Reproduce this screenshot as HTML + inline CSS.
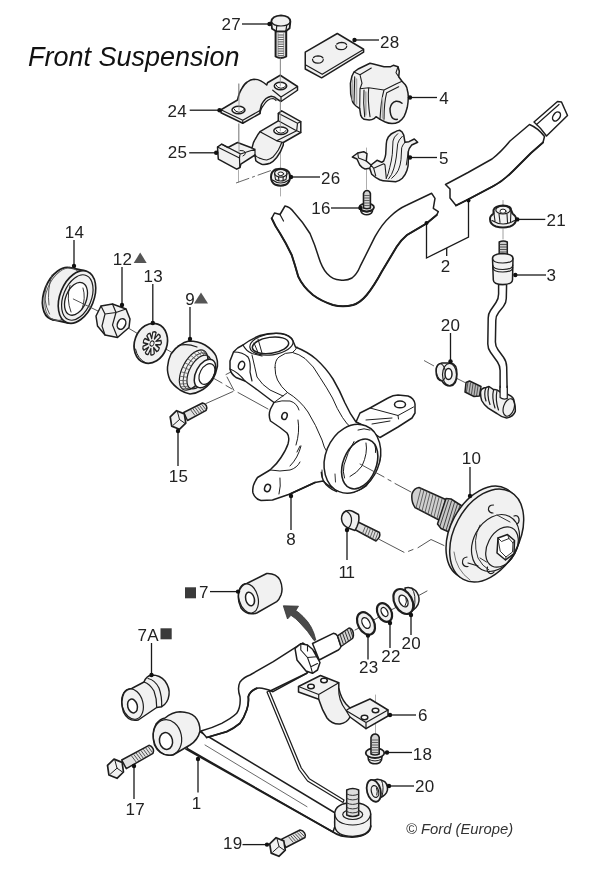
<!DOCTYPE html>
<html lang="en"><head><meta charset="utf-8"><title>Front Suspension</title>
<style>
html,body{margin:0;padding:0;background:#fff;}
body{width:600px;height:876px;overflow:hidden;position:relative;font-family:"Liberation Sans",sans-serif;}
svg{position:absolute;left:0;top:0;display:block;opacity:.999;will-change:transform}
.p{fill:#f1f1f1;stroke:#1e1e1e;stroke-width:1.5;stroke-linejoin:round;stroke-linecap:round}
.w{fill:#fff;stroke:#1e1e1e;stroke-width:1.5;stroke-linejoin:round;stroke-linecap:round}
.l{fill:none;stroke:#1e1e1e;stroke-width:1.2;stroke-linejoin:round;stroke-linecap:round}
.t{fill:none;stroke:#555;stroke-width:.8;stroke-linejoin:round;stroke-linecap:round}
.g{fill:none;stroke:#999;stroke-width:.8;stroke-linecap:round}
.c{fill:none;stroke:#555;stroke-width:1;stroke-dasharray:14 3 3 3}
.ld{fill:none;stroke:#1a1a1a;stroke-width:1.3}
.d{fill:#111;stroke:none}
.n{font-family:"Liberation Sans",sans-serif;font-size:17px;fill:#222;letter-spacing:.3px}
.ti{font-family:"Liberation Sans",sans-serif;font-style:italic;font-size:27px;fill:#111}
.cp{font-family:"Liberation Sans",sans-serif;font-style:italic;font-size:14.8px;fill:#333}
.k{fill:#555;stroke:none}
</style></head><body>
<svg width="600" height="876" viewBox="0 0 600 876">
<!-- 10_top.svg -->
<g id="top">
<!-- center lines -->
<path class="g" d="M280.5 58V86 M280.5 98V112 M280.5 147V168 M280.5 188V196 M238.5 84V108 M238.5 124V148 M238.5 170V182 M366.5 148V189"/>
<path class="c" d="M236 183 L278 168" style="stroke-width:.9"/>
<!-- bolt 27 -->
<path class="p" d="M275.600 31.300 V56.500 Q280.800 59.500 286.200 56.500 V31.300Z" style="stroke-width:2;fill:#f6f6f6"/>
<path class="t" d="M278.300 35.0H283.500M278.300 37.3H283.500M278.300 39.6H283.500M278.300 41.9H283.500M278.300 44.2H283.500M278.300 46.5H283.500M278.300 48.8H283.500M278.300 51.1H283.500M278.300 53.4H283.500M278.300 55.7H283.500" style="stroke:#555;stroke-width:1"/>
<path class="t" d="M278 33.500V56 M283.800 33.500V56" style="stroke:#777;stroke-width:.8"/>
<path class="p" d="M271.300 21.500 Q272 16 281 15.400 Q290 16 290.400 21.500 L289.600 28.300 L285.800 31.300 L276.300 31.300 L272 28.700Z" style="stroke-width:1.800"/>
<path class="l" d="M271.300 21.500 Q273 26 281 26 Q289 26 290.400 21.500 M276.700 25.800 L276.300 31.300 M286.700 25.400 L285.800 31.300"/>
<!-- clamp 24 -->
<path class="p" d="M221 109.750 L237.500 100 Q239 93 241.250 89.500 Q244 84 247.250 82 Q250.500 79.500 254 79.300 Q258 79.300 260.750 80.800 Q264 82.500 266.750 85 L267.500 82.750 L280.250 75.250 L297.500 86.500 L297.500 90.250 L281 101.500 L277.250 99.250 Q275 96.500 271.250 96.250 Q268 97 266 98.500 Q263 101.500 261.500 104.500 L260 110.500 L260 113.500 L242.750 123.250 L221 112.750Z"/>
<path class="l" d="M221 109.750 L242.750 120.250 L260 110.500 M242.750 120.250V123.250 M272.750 90.250 L281 97 L297.500 86.500 M281 97V101.500 M260 113.500 Q261 108 263 106 Q265 102.500 267.500 100.500 Q270 98.500 273 98.500 Q275 99 276 100.500"/>
<ellipse class="w" cx="238.500" cy="110" rx="6.500" ry="3.800"/>
<path class="l" d="M234 109 Q235 112 239 112.300 Q243 112 244 109.500" style="stroke-width:1"/>
<ellipse class="w" cx="280.500" cy="86" rx="6.200" ry="3.800"/>
<path class="l" d="M276 85 Q277 88 281 88.300 Q285 88 286 85.500" style="stroke-width:1"/>
<path class="g" d="M239 84V110 M280.300 58V86" style="stroke:#888"/>
<!-- clamp 25 -->
<path class="p" d="M260 131.700 L278.300 120.800 L278.300 113.300 L281.700 110.800 L300.800 121.700 L300.800 132.500 L283.300 142.500 L283.300 145 Q281 152 276.700 157.500 Q273 162 270 163.300 Q265 165 261.700 164.200 Q258 163 255.800 160.800 L255 155 L240.800 164.200 L240 167.500 L236.700 169.200 L218.300 159.200 L217.500 147 L221.700 144.200 L228 147.500 L237.500 142.500 L252 148 Q253 142 255.800 138.300 Q257.500 134.500 260 131.700Z"/>
<path class="l" d="M217.500 147 L239.500 158 L239.800 167.500 M221.700 144.200 L240 153.500 L239.500 158 M228 147.500 L240.500 154 L255 149.200 L255 155 M252 148 L255 149.200"/>
<path class="l" d="M260 131.700 L276.700 140.800 L283.300 142.500 M276.700 140.800 L296.700 130.800 L297.500 123.300 L278.300 113.300 M296.700 130.800 L300.800 132.500 M297.500 123.300 L300.800 121.700 M278.300 120.800 L296 130.500" />
<path class="l" d="M255 155 Q257 157.500 260 158.300 Q263.500 160 266.700 160 Q270.500 159 273.300 156.700 Q276.500 153 278.300 150 Q280.500 146 281.700 142.500"/>
<ellipse class="w" cx="280.800" cy="130.800" rx="7" ry="3.700"/>
<path class="l" d="M276 130 Q277 133 281 133.200 Q285 133 286 130.500" style="stroke-width:1"/>
<path class="l" d="M240 150.500 Q244 150 245.500 152.500 Q245.500 155 243 156" style="stroke-width:1"/>
<path class="g" d="M280.300 101V131 M239 124V152" style="stroke:#888"/>
<!-- nut 26 -->
<path class="p" d="M271 177 Q271 171 276 169.500 Q280.500 168 285 169.500 Q290 171 290 177 Q290 182.500 285.500 184.800 Q280.500 186.500 275.500 184.800 Q271 182.500 271 177Z" style="stroke-width:2"/>
<ellipse class="l" cx="280.800" cy="173.300" rx="6.200" ry="3.800"/>
<ellipse class="w" cx="280.800" cy="173.800" rx="2.800" ry="1.800" style="stroke-width:1"/>
<path class="l" d="M274.600 173.500 L275.500 179.500 Q280.500 182.500 286 179.500 L287 173.500 M278.500 177 L279 181 M283.200 177 L283 181 M272.500 180 Q280.500 186 289 180" style="stroke-width:1.100"/>
<!-- plate 28 -->
<path class="p" d="M305.250 52.200 L337.300 33.500 L363.600 49.250 L363.600 52.200 L321.600 77.800 L305.250 69Z"/>
<path class="l" d="M305.800 65 L322.200 74.300 L363 49.800"/>
<path class="l" d="M312.500 59 Q312.500 63 317.700 63.200 Q323 63 323.300 59.500 M313.500 57.500 Q315 55.800 318 55.800 Q322 56 323 58"/>
<path class="l" d="M335.800 45.500 Q336 49.500 341 49.700 Q346.500 49.500 346.800 46 M336.800 44 Q338.500 42.300 341.500 42.300 Q345.500 42.500 346.500 44.500"/>
<!-- bushing 4 -->
<path class="p" d="M354 72 L358.700 68.700 L370 63.300 L373.300 64 L384 66.700 L390.700 66.700 L393.300 65.300 L398 66.700 L399.300 71.300 L398.700 76.700 L402 81.300 L405.300 84.700 Q407 87 407.300 90 Q408.300 93 408.300 96.700 Q408.300 102 407.300 107.300 Q406 112.500 404 116.700 Q402 120 398.700 122 Q395.500 123.600 392 123.600 Q388.500 123.500 385.300 122 L380 119.300 L376 116.700 L374 118.700 Q372 120 369.300 120 L364 119.300 Q361.500 118 360.700 115.300 L359.700 108.700 L356 106 Q353.500 104 352.700 102 L350.700 94 L350.400 83.300 L352 76Z"/>
<path class="l" d="M354 72 L360 74.700 L371.300 68 M360 74.700 L362 83.300 L360 88.700 L359.700 108.700 M354.700 76.700 L354 103.300 M360 88.700 L368.700 87.700 L384 90 L396 84 L402 81.300 M368.700 87.700 Q367.500 100 370 116.700 M364 90 Q363 103 364.700 116.700 M384 90 Q381 100 380 119.300 M386.700 92.700 L398.700 86.700 M386.700 92.700 Q384 103 384 119.300 M398 66.700 L396 72.700 L398.700 76.700" style="stroke-width:1.100"/>
<path class="l" d="M402 103.300 Q399.500 101 396 101.300 Q391 102.500 390 108.700 Q390 116 393.300 118.700 Q395.500 120 397.300 119.300" style="stroke-width:1.500"/>
<path class="t" d="M352.500 80V100 M356.500 79V104 M365.800 92V115 M382.500 98 V118" style="stroke:#aaa;stroke-width:1.600"/>
<!-- clip 5 -->
<path class="p" d="M352.300 157 L357.700 153 L363.700 151.700 L367 153.700 L366.300 161 L371 165 L377 160.300 L381.700 162.300 L383.700 161 Q385.500 157 385.700 154.300 L386.300 143.700 Q386.500 140 388.300 137 Q391 133.500 394.300 132.300 Q397 130.500 399.700 130.300 Q402.500 131.500 403.700 135 L405 142.300 L409 141.700 L414.300 139 L417.700 142.300 L411.700 145 Q409 148 408.300 151.700 L408.300 161 Q408.500 166 407 170.300 Q405.500 175 402.300 178.300 Q399.500 181 395.700 181.700 L386.300 181 Q383 181 379.700 179.700 Q375 177.500 371.700 174.300 L369.700 168.300 L365 169 Q362 168 359.700 165 L357 159Z"/>
<path class="l" d="M371 165 L373.700 168.300 L383.700 163.700 L385 165 L386.300 178.300 M373.700 168.300 L375.700 175.700 M369.700 168.300 L371 165 M357.700 153 L358.500 158 L366.300 161" style="stroke-width:1.100"/>
<path class="l" d="M397.700 133.700 Q393.500 137 393 141 L392.300 154.300 Q391.500 161 389.700 167.700 Q388.500 174 386.300 178.300 M402.300 136.300 Q398.500 140 397.700 143.700 L396.300 157 Q395.500 163 393.700 169 Q392 175 388.500 179 M405 142.300 Q402.500 145 401.700 147.700 L401 159.700 Q400.500 165 398.300 170.300 Q396 175 391.700 178.300 M408.300 151.700 L406.300 165" style="stroke-width:1"/>
<!-- bolt 16 -->
<path class="p" d="M360.500 208.500 L361 211.500 Q362.500 214.800 366.700 214.800 Q371 214.800 372.300 211.500 L372.800 208.500Z" style="stroke-width:1.600"/>
<path class="l" d="M361.500 211 Q366.700 213.800 372 211" style="stroke-width:1"/>
<ellipse class="p" cx="366.700" cy="207.300" rx="7.300" ry="4" style="stroke-width:1.800"/>
<path class="p" d="M363.500 208 V193.500 Q364.500 190.500 367 190.500 Q369.500 190.500 370.400 193.500 V208 Q367 209.500 363.500 208Z" style="fill:#d2d2d2;stroke-width:1.600"/>
<path class="t" d="M364.500 195.500H369.500M364.500 198H369.500M364.500 200.500H369.500M364.500 203H369.500M364.500 205.500H369.500" style="stroke:#555;stroke-width:.9"/>
</g>
<!-- 20_bar.svg -->
<g id="bar">
<!-- stabilizer bar left piece -->
<path class="w" d="M285 206 Q290 207 293.500 211.700 Q303 222 310 233.500 Q315 245 318.500 256.700 Q322 268 327 273.500 Q333 280 340 280 Q347 281 352 278 Q357 274 360 266.700 L375 236.700 Q382 224 390 216.700 Q398 209 407 205 L431.700 193.300 L435 198.300 L433.300 208.300 L438.300 211.700 L436.700 215 L426.700 223.300 L407 235 Q401 240 396.700 246.700 L381.700 271.700 Q374 286 366.700 295 Q360 303 353 305 Q343 307.500 333 305 Q321 301 313 295 Q303 287 298.300 276.700 Q295 265 291.700 255 Q286 243 280 233.300 Q275 226 271.700 218.300 L274.500 213 L280 214.500Z"/>
<path class="l" style="stroke-width:2" d="M271.700 218.300 Q275 226 280 233.300 Q286 243 291.700 255 Q295 265 298.300 276.700 Q303 287 313 295 Q321 301 333 305 Q343 307.500 353 305 Q360 303 366.700 295 Q374 286 381.700 271.700 L396.700 246.700 Q401 240 407 235 L426.700 223.300 L436.700 215"/>
<path class="l" d="M280 214.500 L283.500 221"/>
<!-- right piece -->
<path class="w" d="M445.500 184.500 L468 172.500 L492 159 Q501 152 510 141 L529.500 124.500 Q538 128 544.500 136.500 L543 142.500 L531 153 L513 171 Q503 181 493.500 186 L468 199.500 L456 205.500 L450 198 L450 189Z"/>
<path class="l" style="stroke-width:1.800" d="M456 205.500 L468 199.500 L493.500 186 Q503 181 513 171 L531 153 L543 142.500"/>
<path class="w" d="M534 122 L557.500 101.500 L561.500 102 L567.500 115.500 L546.500 136 Q541 128 534 122Z"/>
<path class="l" d="M536.500 124.500 L559 104.500"/>
<ellipse class="w" cx="556.500" cy="116.500" rx="3.300" ry="5" transform="rotate(35 556.500 116.500)"/>
<!-- nut 21 -->
<path class="g" d="M503 200.500V206 M503 229.500V239" style="stroke:#888"/>
<path class="p" d="M490 219 Q490 216 493.500 213.500 L493.500 210 Q495 206 503 205.500 Q511 206 511 210 L512.500 213.500 Q516 216 516 219 Q516 224.500 510 226.500 Q503 228.500 496 226.500 Q490 224.500 490 219Z" style="stroke-width:2"/>
<ellipse class="l" cx="503" cy="210" rx="7.200" ry="4"/>
<ellipse class="w" cx="503" cy="211.200" rx="3" ry="2.100" style="stroke-width:1"/>
<path class="l" d="M493.500 210 L495 221 M511 210 L510.500 221.500 M499 214 L500 222.500 M507 214 L507.500 222.500 M492 220.500 Q503 227.500 514.500 220.500" style="stroke-width:1.100"/>
<!-- link 3 -->
<path class="p" d="M499.200 242 Q503.300 239.800 507.300 242 V256 H499.200Z" style="fill:#ccc"/>
<path class="t" d="M499.500 244.500H507M499.500 247H507M499.500 249.500H507M499.500 252H507M499.500 254.500H507" style="stroke:#333"/>
<path class="w" d="M498.600 284.500 L498.600 294 Q498.600 298.600 496 302.500 L490.500 310.500 Q488.200 313.800 488.200 318 L487.800 344 Q487.800 348.500 490.500 352.300 L497.500 362 Q500.100 365.800 500.100 370.500 L500.100 396 L507.300 398.400 L506.700 367 Q506.600 361.500 503.500 357.300 L498 349.800 Q495.400 346.300 495.400 342 L495.800 320.500 Q495.800 316 498.600 312.500 L503.500 306.400 Q506.200 303 506.300 298.500 L506.600 284.500Z"/>
<path class="p" d="M492.500 258.500 Q492.500 254 502.800 253.500 Q513 254 513 258.500 L512.500 280 Q512 284.500 502.800 284.500 Q493.500 284.500 493.300 280Z"/>
<path class="l" d="M492.500 258.500 Q493 263 502.800 263 Q512.500 263 513 258.500 M492.700 265 Q493 269.500 502.800 269.500 Q512.500 269.500 512.800 265 M492.800 267.500 Q493 272 502.800 272 Q512.500 272 512.700 267.500"/>
<!-- lower joint -->
<path class="p" d="M466 382.500 L469.500 381 L481 386.500 L479.500 396 L474 396.500 L465 392Z" style="fill:#bbb"/>
<path class="t" d="M468 382L466.500 391.500M470.500 383L469 393M473 384L471.500 394M475.500 385L474 395.500M478 386L476.500 396" style="stroke:#333"/>
<path class="p" d="M480.600 391.800 Q481 388 486 387.500 L489 386.500 L493.600 389.700 Q497 389 500 392 L508 394.500 Q514 397 514.200 401.600 Q515.500 406 515.300 411.400 Q513 417 506.600 417.900 Q501 417 496.900 413.500 L488.200 408.100 Q484 405 481.700 400.500 Q480.300 396 480.600 391.800Z"/>
<path class="l" d="M486 387.500 Q483.500 394 486 401 M489 386.500 Q486.500 395 490 404.500 M493.600 389.700 Q491.500 398 495 408 M497 390.500 Q495 400 498.500 410"/>
<ellipse class="l" cx="508.800" cy="407.500" rx="5.300" ry="9" transform="rotate(18 508.800 407.500)"/>
<path class="w" d="M500.100 388 L500.100 397.500 Q503.500 400 507.300 398.400 L507.200 388Z" style="stroke:none"/>
<path class="l" d="M500.100 386 L500.100 397.500 Q503.500 400 507.300 398.400 L507.200 386"/>
<!-- washer 20 -->
<path class="c" d="M424 360.500 L434 366 M455 377.500 L466 383" style="stroke-dasharray:none;stroke-width:.9"/>
<path class="p" d="M436 371 Q436 364 442 363 L451 363 Q457 364 457 374 Q457 385.500 450 386 Q445 386 442 381 Q436 380 436 371Z"/>
<ellipse class="l" cx="441" cy="372" rx="4.500" ry="8.500" transform="rotate(-10 441 372)" style="stroke-width:1"/>
<ellipse class="w" cx="448.500" cy="374" rx="3.500" ry="5.500"/>
<ellipse class="l" cx="449.500" cy="374.500" rx="7" ry="11"/>
</g>
<!-- 30_bearing.svg -->
<g id="bearing">
<!-- axis lines -->
<path class="t" d="M124 325.500 L140 335 M157 344 L172 352.500 M206 374 L222 383 M226 385.500 L232 389 M238 392.500 L268 409" style="stroke:#444;stroke-width:.9"/>
<path class="t" d="M242.500 366 L226 374.500 M227 377 L234 390.500 M233 391.500 L206 403.500" style="stroke:#444;stroke-width:.9"/>
<!-- part 14 -->
<ellipse class="p" cx="61.2" cy="293.7" rx="16.9" ry="27.5" transform="rotate(22 61.2 293.7)" style="stroke-width:1.800"/>
<path d="M69.7 267.7 L85.5 271.0 L68.5 323.0 L52.7 319.7Z" fill="#f1f1f1" stroke="none"/>
<path class="l" d="M69.7 267.7 L85.5 271.0 M68.5 323.0 L52.7 319.7" style="stroke-width:1.800"/>
<path class="l" d="M46.500 285 Q42 300 49.500 314 M52 275 Q47 290 49 305" style="stroke-width:.9;stroke:#444"/>
<ellipse class="l" cx="63.5" cy="294.2" rx="16.9" ry="27.5" transform="rotate(22 63.5 294.2)" style="stroke-width:.9;stroke:#555"/>
<ellipse class="p" cx="77" cy="297" rx="16.9" ry="27.5" transform="rotate(22 77 297)" style="stroke-width:1.600"/>
<ellipse class="l" cx="77.300" cy="297.500" rx="14" ry="23.800" transform="rotate(22 77.300 297.500)"/>
<ellipse class="w" cx="76" cy="298.800" rx="10.300" ry="17.200" transform="rotate(22 76 298.800)" style="stroke-width:1.300"/>
<path class="l" d="M70 285.500 Q66 299 71 312 M83 288 Q86 298 82 309" style="stroke-width:.9"/>
<path class="t" d="M73.300 299 L100 312" style="stroke:#444;stroke-width:.9"/>
<!-- nut 12 -->
<path class="p" d="M101 306 L112.500 304 L126 309 L130 319 L129 327.500 L117.500 337.500 L105 335 L97.500 326 L96 316Z"/>
<path class="l" d="M112.500 304 L116 312.500 L126 309 M116 312.500 L112.500 325 L117.500 337.500 M101 306 L105 314 L116 312.500 M105 314 L102 326 L105 335"/>
<ellipse class="w" cx="121.500" cy="324" rx="4" ry="5.500" transform="rotate(25 121.500 324)"/>
<!-- washer 13 -->
<ellipse class="p" cx="150.800" cy="343.300" rx="16.200" ry="20.400" transform="rotate(20 150.800 343.300)" style="stroke-width:1.700"/>
<path class="l" d="M135.500 349 Q137.500 359 146 363" style="stroke-width:1"/>
<g transform="translate(152 343.500) rotate(20) scale(.78 1.05)">
<path class="l" d="M5.0 0.0 L10.9 1.7 Q11.6 4.2 9.4 5.7 L3.8 3.2 L7.2 8.3 Q6.2 10.7 3.5 10.4 L0.9 4.9 L0.2 11.0 Q-2.1 12.1 -4.0 10.3 L-2.5 4.3 L-6.9 8.6 Q-9.4 7.9 -9.6 5.3 L-4.7 1.7 L-10.8 2.1 Q-12.3 0.0 -10.8 -2.1 L-4.7 -1.7 L-9.6 -5.3 Q-9.4 -7.9 -6.9 -8.6 L-2.5 -4.3 L-4.0 -10.3 Q-2.1 -12.1 0.2 -11.0 L0.9 -4.9 L3.5 -10.4 Q6.2 -10.7 7.2 -8.3 L3.8 -3.2 L9.4 -5.7 Q11.6 -4.2 10.9 -1.7 L5.0 -0.0Z" style="stroke-width:1.500;stroke:#222"/>
<circle class="l" cx="0" cy="0" r="2.500" style="stroke-width:1"/>
</g>
<!-- bearing 9 -->
<path class="p" d="M188.700 341 Q198 341 205 345 Q213 350 216 356 Q218 361 217.500 366 Q216 374 212.500 380 Q207 388 200 391 Q195 394 190 394 Q185 393 180 390 Q173 385 170 380 Q167 373 167.500 367 Q168 360 171 354 Q175 348 180 345 Q184 342 188.700 341Z"/>
<ellipse class="l" cx="193.500" cy="370" rx="11" ry="22" transform="rotate(28 193.500 370)"/>
<ellipse class="l" cx="196" cy="371" rx="10" ry="20" transform="rotate(28 196 371)" style="stroke-width:.8"/>
<ellipse class="l" cx="199" cy="372" rx="9.500" ry="18.500" transform="rotate(28 199 372)"/>
<ellipse class="w" cx="205" cy="373.500" rx="9" ry="15.500" transform="rotate(28 205 373.500)"/>
<ellipse class="l" cx="207" cy="374" rx="7" ry="11" transform="rotate(28 207 374)"/>
<path class="t" d="M182.4 388.9L189.1 387.9M180.7 386.9L187.6 386.2M179.6 384.0L186.7 383.7M179.3 380.4L186.4 380.7M179.7 376.2L186.7 377.2M180.8 371.8L187.6 373.4M182.6 367.2L189.1 369.6M184.9 362.8L191.1 365.9M187.7 358.8L193.4 362.5M190.7 355.3L196.0 359.6M193.9 352.6L198.7 357.3M197.1 350.8L201.4 355.8M200.1 350.0L204.0 355.1M202.8 350.1L206.3 355.3" style="stroke:#555;stroke-width:.8"/>
<path class="l" d="M178 346 Q186 343 197 347"/>
<!-- bolt 15 -->
<path class="p" d="M183.7 412.5 L202.5 403.0 Q205.2 403.5 206.3 405.7 Q207.4 407.8 206.2 410.3 L187.5 420.5Z" style="fill:#e2e2e2"/>
<path class="t" d="M190.9 410.1L194.8 415.3M193.1 408.9L197.0 414.2M195.3 407.8L199.2 413.0M197.5 406.7L201.4 411.8M199.7 405.6L203.5 410.6M201.9 404.5L205.7 409.4" style="stroke:#444;stroke-width:.9"/>
<path class="p" d="M176.6 410.7 L184.3 413.9 L185.8 423.2 L179.4 429.3 L171.7 426.1 L170.2 416.8Z" style="stroke-width:1.700"/>
<path class="l" d="M177.6 412.2 L179.5 419.5 L184.8 423.2 M179.5 419.5 L173.2 425.1" style="stroke-width:1"/>
</g>
<!-- 40_knuckle.svg -->
<g id="knuckle">
<!-- steering arm (behind) -->
<path class="w" d="M356 422 L360 413 L370 408 L388 398 Q393 395 398 395 L408 396 Q414 398 415 404 L415 413 L412 418 L398 427 L380 437.500 L366 428Z"/>
<path class="l" d="M370 408 L398 415.500 L413.500 407 M398 415.500 L398.500 419 M366 420 L392 418 M372 424 L390 421" style="stroke-width:1"/>
<ellipse class="w" cx="400" cy="404.400" rx="5.500" ry="3.300"/>
<!-- main body -->
<path class="w" d="M230 361 L233.500 352 Q237 347.500 243 345 Q250 339.500 260 335.500 Q271 332.500 281 333.500 Q290 335 293 341 L295.500 347 Q308 352 316 359 Q326 368 333 379 Q340 391 345 403 Q350 414 356 422 Q368 427 375 434 Q381 445 380 459 Q377 472 366 486 Q356 494 343 492 Q330 488 323 481 L315 482.500 L290 494 L272.500 500 L261 500.500 Q255 499 253 493 Q251.500 486 257.500 477.500 L270 470 Q277 464 281 457.500 Q286 450 288 444 Q290 437 287 433 L280 427.500 L270.500 421 Q268 415 270.500 409 L274 402.500 L257.500 390 L245 381 L236 377.500 Q231 374 230 369Z"/>
<!-- strut ring -->
<ellipse class="l" cx="271.500" cy="344.300" rx="21.800" ry="10.600" transform="rotate(-8 271.500 344.300)"/>
<ellipse class="w" cx="270.500" cy="345.300" rx="18.300" ry="8" transform="rotate(-8 270.500 345.300)"/>
<path class="l" d="M258 339 L262 353 M254 343 L258 352.500" style="stroke-width:1"/>
<!-- clamp ear -->
<path class="l" d="M233.500 352 Q243 352 248 357 Q251 362 250 372 L252 381 M243 345 Q246 351 252 353.500 L262 356 M230 369 Q238 372 245 381"/>
<ellipse class="w" cx="241.500" cy="365.500" rx="3" ry="4.300" transform="rotate(20 241.500 365.500)"/>
<!-- neck contour lines -->
<path class="l" d="M275 367.500 Q275 360 279 357 Q285 352 292.500 352.500 Q299 354 305 358.500 Q314 366 320 377.500 Q327 388 332.500 398 Q337 409 342.500 417.500 Q347 425 352 428" style="stroke-width:1"/>
<path class="l" d="M275 367.500 Q275 375 277.500 380 Q281 387 287.500 392.500 L274 402.500" style="stroke-width:1"/>
<path class="l" d="M252 355 Q255 368 257 377 Q262 385 270 390 L283 396" style="stroke-width:1"/>
<path class="l" d="M287.500 392.500 Q300 400 308 412 Q316 425 322 440 Q324 448 327 452" style="stroke-width:1"/>
<path class="l" d="M297 347 Q296 350 292.500 352.500" style="stroke-width:1"/>
<!-- caliper ears -->
<path class="l" d="M274 402.500 Q282 400 290 401 Q297 403 299 410" style="stroke-width:1"/>
<ellipse class="w" cx="284.500" cy="416" rx="2.600" ry="3.600" transform="rotate(20 284.500 416)"/>
<ellipse class="w" cx="267.500" cy="488" rx="2.800" ry="3.800" transform="rotate(20 267.500 488)"/>
<path class="l" d="M298 420 Q300 432 296 445 M301 446 Q298 458 290 466 M280 478 Q281 486 279 494 M270 470 Q280 472 290 470 Q297 468 300 462 M300 446 L297 452" style="stroke-width:1"/>
<path class="l" d="M290 494 L315 482.500" style="stroke-width:1.800"/>
<!-- bearing housing -->
<path class="l" d="M321.300 472.300 Q321.500 477 323.300 480.300 Q325.500 484.500 328.700 487 Q332 490 336.700 491.500" style="stroke-width:1.400"/>
<ellipse class="w" cx="352.400" cy="458.700" rx="27" ry="35.500" transform="rotate(22 352.400 458.700)"/>
<ellipse class="w" cx="359.700" cy="464" rx="16.500" ry="26" transform="rotate(22 359.700 464)" style="stroke-width:1.600"/>
<path class="l" d="M354 441.500 Q347.500 452 344 465 Q342.500 472 344.500 478 M366 443 Q368 453 362 466 Q357 473 350 476.500 M375 445.500 Q376 449 375.500 452.500 M358 430 Q364 427.500 370 430" style="stroke-width:1"/>
<path class="l" d="M335 474 L335.500 482 M322 470 L322.500 478" style="stroke-width:.9"/>
</g>
<!-- 50_hub.svg -->
<g id="hub">
<!-- center lines -->
<path class="t" d="M360 464 L384 477 M388 479.500 L391 481 M395 483.500 L411 492" style="stroke:#444;stroke-width:.9"/>
<path class="t" d="M379.500 539.500 L404 552.300 M408.500 551.300 L413 549.500 M418 547.700 L431 539.500 L444 545.500" style="stroke:#444;stroke-width:.9"/>
<!-- threaded shaft -->
<path class="p" d="M412 494 Q414 488 419 487.500 L449 501 L440 520.500 L415 507.500 Q411 502 412 494Z" style="fill:#d0d0d0"/>
<path class="t" d="M421 488.500L416 508M424 490L419 509.500M427 491.500L422 511M430 493L425 512.500M433 494.500L428 514M436 496L431 515.500M439 497.500L434 517M442 499L437 518.500M445 500.500L440 520" style="stroke:#555;stroke-width:.9"/>
<!-- spline -->
<path class="p" d="M446 498.500 L451 499 L462 506 L449 532 L441 528.500 L437.500 524Z" style="fill:#c8c8c8"/>
<path class="t" d="M448.500 500L440 526M451.500 501L443 529M454.500 502.500L446 530.500M457.500 504L448.500 531.500M460 505.500L451 531" style="stroke:#333;stroke-width:.9"/>
<!-- flange -->
<ellipse class="p" cx="483" cy="532.700" rx="32.500" ry="49.700" transform="rotate(28 483 532.700)"/>
<ellipse class="p" cx="486.700" cy="535.500" rx="32.500" ry="49.700" transform="rotate(28 486.700 535.500)"/>
<path class="l" d="M454 552 Q456 570 470 580" style="stroke-width:.9;stroke:#666"/>
<!-- boss -->
<ellipse class="l" cx="495.500" cy="543" rx="22" ry="30" transform="rotate(28 495.500 543)"/>
<path class="l" d="M480 525 Q472 540 478 558 Q482 566 489 570" style="stroke-width:.9"/>
<ellipse class="l" cx="502" cy="547" rx="14.500" ry="21.500" transform="rotate(28 502 547)"/>
<path class="w" d="M498 538 L507.500 534.500 L514.500 540.500 L514 553.500 L505.500 560 L497 553Z"/>
<path class="l" d="M498 538 L501.500 541.500 L509 538.500 L513 543 L512.500 552 L506 557 L500.500 551.500Z M507.500 534.500 L509 538.500 M514.500 540.500 L513 543 M505.500 560 L506 557" style="stroke-width:.9"/>
<!-- holes -->
<path class="l" d="M493.500 505 Q488 505 488.500 510 Q489.500 513 493 513"/>
<path class="l" d="M514 516 Q518 514.500 519 519 Q519.500 522.500 517 524"/>
<path class="l" d="M467 557 Q462 557.500 462.500 563 Q463.500 567 468 566.500 M468 563 L478 566"/>
<path class="l" d="M487.500 567 Q486 571.500 490 573.500 Q492.500 574 494 572"/>
<path class="l" d="M497 515 L510 522 M480 558 L486.500 562" style="stroke-width:.9"/>
<!-- bolt 11 -->
<path class="p" d="M353 519.500 L379.500 532.500 Q381 537 376 541 L352 528Z" style="fill:#ddd"/>
<path class="t" d="M365.500 526L362.500 533.500M368 527.500L365 535M370.500 528.500L367.500 536.500M373 530L370 538M375.500 531L372.500 539M378 532.500L375 540.500" style="stroke:#444"/>
<path class="p" d="M346 511 Q350 510 353 511.500 L358.500 514.500 Q360 520 357 526.500 L355 530.500 L348 528 Q342 525 341.500 519 Q341.500 513 346 511Z"/>
<path class="l" d="M346 511 Q352 514 351.500 521 Q351 526 348 528"/>
</g>
<!-- 60_arm.svg -->
<g id="arm">
<!-- center line washers -->
<path class="t" d="M355 630 L361 627 M372 621 L379 617 M390 610.500 L397 607 M416 597 L427 591" style="stroke:#444;stroke-width:.9"/>
<path class="g" d="M375.500 695V736"/>
<!-- main front leg -->
<path class="w" d="M199 731 L336 813.500 Q334 820 335 826 L333 832 L188 749 L184 742Z"/>
<path class="l" d="M205 745 L307 806.700" style="stroke-width:.8;stroke:#444"/>
<path class="l" d="M186 749 L333 832 Q340 837 352 837 Q363 836.500 368 832 Q371 829 370.700 826" style="stroke-width:1.800"/>
<!-- brace rod -->
<path class="w" d="M269.300 690.700 L301.300 768 L309.300 778.700 L344 800 L343 802.500 L307.500 781 L299 769.500 L267 692Z" style="stroke-width:1.250"/>
<!-- upper tube -->
<path class="w" d="M201 731 Q212 728 221.700 723.300 Q232 718 236.700 713.300 Q241 707 240 696.700 Q237 688 240 682 Q244 677 250 675 L273.300 661.700 L296.700 646.700 L303 643 L316 653 L315 663 L306.700 673.300 L273 691.700 Q262 687 256.700 688.300 Q250 691 248.300 696.700 Q249 704 246.700 710 Q244 718 240 723.300 Q233 729 226.700 731.700 L206.700 737.500Z"/>
<path class="l" d="M206.700 737.500 L226.700 731.700 Q233 729 240 723.300 Q244 718 246.700 710 Q249 704 248.300 696.700 Q250 691 256.700 688.300 M270.700 690.700 L306.700 673.300" style="stroke-width:1.800"/>
<!-- collar + shaft + thread -->
<path class="w" d="M312.500 643.500 L333.300 633.300 Q336 633.500 337.500 635.800 L341 646.500 Q340 649 338.300 650 L319.200 660Z"/>
<path class="p" d="M337.500 635.800 L349 628 Q352.500 628.500 353.300 633 Q354 636.500 352.500 638.500 L341 646.500Z" style="fill:#d4d4d4"/>
<path class="t" d="M340 634.500L343.500 644.500M342.500 633L346 642.500M345 631.500L348.500 641M347.500 630L351 639M350 628.500L353 637.500" style="stroke:#333;stroke-width:1"/>
<path class="w" d="M295 648.300 L300.800 643.700 L307.500 645 L312.500 649.200 L316.700 656.700 L320 662.500 L317.500 670 L312.500 673.300 L306 671 L297 660Z"/>
<path class="l" d="M300.800 650 L300.800 643.700 M300.800 650 L307.500 657.500 L310.800 666.700 L312.500 673.300 M307.500 657.500 L316.700 656.700 M307.500 645 L307.500 651 M310.800 666.700 L317.500 663.500" style="stroke-width:1.100"/>
<!-- eye -->
<path class="p" d="M165 718 Q172 712 180 711.700 Q190 712 195 716.700 Q200 722 200 731 Q198 740 190 745 L173 755 Q160 757 154.500 745 Q151 733 156 724 Q160 719 165 718Z"/>
<ellipse class="l" cx="167.500" cy="737.500" rx="14" ry="18" transform="rotate(-12 167.500 737.500)"/>
<ellipse class="w" cx="166" cy="741" rx="6.500" ry="8.500" transform="rotate(-12 166 741)"/>
<!-- ball joint -->
<path class="p" d="M334.700 814 Q335 803 352.700 802.700 Q370 803 370.700 814 L370.700 826 Q369 836 352.700 836.500 Q336 836 334.700 826Z"/>
<path class="l" d="M334.700 814 Q336 824.500 352.700 825 Q369 824.500 370.700 814"/>
<ellipse class="l" cx="352.700" cy="814.500" rx="10" ry="5"/>
<path class="p" d="M346.700 790 Q352.700 787 358.700 790 L358.700 815 Q352.700 818 346.700 815Z" style="fill:#ddd"/>
<path class="t" d="M346.700 794 Q352.700 797 358.700 794 M346.700 798.500 Q352.700 801.500 358.700 798.500 M346.700 803 Q352.700 806 358.700 803 M346.700 807.500 Q352.700 810.500 358.700 807.500 M346.700 811.500 Q352.700 814.500 358.700 811.500" style="stroke:#333;stroke-width:1"/>
<!-- bracket 6 -->
<path class="p" d="M298.500 686.500 L320.500 675.500 L338.800 682.800 L338.800 688.300 Q341 698 346 704 L350 708 L370 699 L388 710 L388 716 L366 728.700 L350 717 Q347 723 340 724 Q332 724.500 327 718 Q322 710 318.700 699.300 L298.500 692Z"/>
<path class="l" d="M298.500 686.500 L318.700 694.500 L338.800 682.800 M318.700 694.500V699.300 M346 710.500 L366 722.500 L388 710 M366 722.500V728.700 M350 708 L346 710.500 L350 717 M338.800 688.300 Q338 700 346 710.500"/>
<ellipse class="w" cx="311" cy="686.500" rx="3.300" ry="2.200"/><ellipse class="w" cx="324" cy="680.500" rx="3.300" ry="2.200"/>
<ellipse class="w" cx="364.500" cy="717.500" rx="3.300" ry="2.200"/><ellipse class="w" cx="375.500" cy="710.500" rx="3.300" ry="2.200"/>
<!-- bolt 18 -->
<path class="p" d="M367.800 755 L368.500 760 Q370 763.800 375 763.800 Q380 763.800 381.500 760 L382.200 755Z" style="stroke-width:1.600"/>
<path class="l" d="M369 759.500 Q375 762.500 381 759.500" style="stroke-width:1"/>
<ellipse class="p" cx="375" cy="753" rx="9.300" ry="5" style="stroke-width:1.800"/>
<path class="p" d="M371 754 V737.500 Q372 734 375 734 Q378.200 734 379.200 737.500 V754 Q375 756 371 754Z" style="fill:#d2d2d2;stroke-width:1.600"/>
<path class="t" d="M372 740H378.500M372 742.500H378.500M372 745H378.500M372 747.500H378.500M372 750H378.500M372 752.500H378.500" style="stroke:#555;stroke-width:.9"/>
<!-- nut 20 lower -->
<path class="p" d="M377.400 779.300 Q381 779.500 384.700 781.600 Q387 783.500 387.400 787 Q388 790 386.500 792.600 Q385 795 382.900 796.200 L376 800 L371 781Z" style="stroke-width:1.600"/>
<path class="l" d="M381.500 780.300 Q384.500 787 382 796.500" style="stroke-width:1"/>
<ellipse class="p" cx="373.800" cy="790.800" rx="6.800" ry="11.200" transform="rotate(-15 373.800 790.800)" style="stroke-width:1.800"/>
<ellipse class="l" cx="375" cy="791.500" rx="3.600" ry="6" transform="rotate(-15 375 791.500)" style="stroke-width:1.300"/>
<path class="l" d="M376.500 788 Q378 791.500 376.800 795" style="stroke-width:1"/>
<!-- washers 23 22 20 -->
<ellipse class="p" cx="366" cy="623.500" rx="8" ry="12" transform="rotate(-28 366 623.500)" style="stroke-width:2.200"/>
<ellipse class="w" cx="366" cy="623" rx="3.600" ry="5.800" transform="rotate(-28 366 623)" style="stroke-width:1.300"/>
<ellipse class="p" cx="384.500" cy="612.500" rx="6.800" ry="10" transform="rotate(-28 384.500 612.500)" style="stroke-width:2.200"/>
<ellipse class="w" cx="384.500" cy="612" rx="3" ry="4.800" transform="rotate(-28 384.500 612)" style="stroke-width:1.300"/>
<path class="p" d="M405 588 Q411 586.500 415.500 590.500 Q419.500 595 419 601 Q418.500 605 416 607.500 L410 613Z" style="stroke-width:1.500"/>
<path class="l" d="M411.500 588 Q417 594 414 609" style="stroke-width:1"/>
<ellipse class="p" cx="403.300" cy="601.500" rx="8.800" ry="13.300" transform="rotate(-28 403.300 601.500)" style="stroke-width:2.200"/>
<ellipse class="w" cx="403.500" cy="601" rx="4" ry="6.300" transform="rotate(-28 403.500 601)" style="stroke-width:1.300"/>
<path class="l" d="M406 598 Q407.500 602 405 606" style="stroke-width:1"/>
<!-- bushing 7 -->
<path class="p" d="M246.700 583.500 L266.700 573.500 Q276 573 280 580 Q283.500 588 281 595 Q279 600 276.700 601.700 L256.700 613 Q247 616 241 608 Q236 597 240 589 Q243 584 246.700 583.500Z"/>
<ellipse class="l" cx="248.500" cy="598.300" rx="9.500" ry="15" transform="rotate(-15 248.500 598.300)"/>
<ellipse class="w" cx="250" cy="599" rx="4.300" ry="7" transform="rotate(-15 250 599)"/>
<!-- bushing 7A -->
<path class="p" d="M131.700 688.500 L144 682 Q146 676 152 675 Q160 675 165 681 Q170 688 169 695 Q168 703 161.700 706.700 L156.700 707.500 L138.300 720 Q128 722 123.500 712 Q120 701 124 693 Q127 689 131.700 688.500Z"/>
<path class="l" d="M144 682 Q150 684 154 691 Q157 699 156.700 707.500 M148 678.500 Q155 680 159 688 Q162 696 161.700 706.700"/>
<ellipse class="l" cx="132.500" cy="704" rx="10.500" ry="15.500" transform="rotate(-15 132.500 704)"/>
<ellipse class="w" cx="132.500" cy="706" rx="4.800" ry="7" transform="rotate(-15 132.500 706)"/>
<!-- arrow -->
<path d="M315.800 640 Q313 626 303 616.500 Q299 612.500 295.800 610.500 L298.500 606.200 L283.300 605.800 L287.500 619 L291 615.300 Q296 618.500 300 623 Q308 631 314 640.500Z" fill="#4a4a4a" stroke="#333" stroke-width=".8" stroke-linejoin="round"/>
<!-- bolt 17 -->
<path class="p" d="M121.7 760.0 L149.0 745.3 Q151.7 745.9 152.9 748.3 Q154.1 750.7 153.0 753.3 L126.3 768.7Z" style="fill:#e2e2e2"/>
<path class="t" d="M131.6 756.0L136.0 761.8M134.0 754.7L138.3 760.4M136.4 753.4L140.7 759.1M138.8 752.1L143.0 757.8M141.2 750.8L145.3 756.4M143.6 749.6L147.7 755.1M146.0 748.3L150.0 753.7M148.4 747.0L152.3 752.4" style="stroke:#444;stroke-width:.9"/>
<path class="p" d="M114.0 759.1 L122.1 762.4 L123.5 772.0 L117.0 778.3 L108.9 775.0 L107.5 765.4Z" style="stroke-width:1.700"/>
<path class="l" d="M115.0 760.6 L117.0 768.2 L122.5 772.0 M117.0 768.2 L110.4 774.0" style="stroke-width:1"/>
<!-- bolt 19 -->
<path class="p" d="M281.7 839.2 L300.0 830.0 Q303.0 830.5 304.5 832.8 Q306.0 835.0 305.0 837.5 L285.8 847.5Z" style="fill:#e2e2e2"/>
<path class="t" d="M288.7 836.9L293.3 842.4M290.9 835.8L295.5 841.2M293.0 834.8L297.7 840.0M295.2 833.7L300.0 838.9M297.3 832.6L302.2 837.7M299.4 831.5L304.5 836.5" style="stroke:#444;stroke-width:.9"/>
<path class="p" d="M276.1 837.7 L283.8 840.9 L285.3 850.2 L278.9 856.3 L271.2 853.1 L269.7 843.8Z" style="stroke-width:1.700"/>
<path class="l" d="M277.1 839.2 L279.0 846.5 L284.3 850.2 M279.0 846.5 L272.7 852.1" style="stroke-width:1"/>
</g>
<!-- 90_labels.svg -->
<g id="labels">
<text class="ti" x="28" y="66">Front Suspension</text>
<text class="cp" x="406" y="834">© Ford (Europe)</text>
<text class="n" x="221.6" y="30.0">27</text>
<text class="n" x="380.1" y="47.8">28</text>
<text class="n" x="439.2" y="104.0">4</text>
<text class="n" x="438.9" y="164.4">5</text>
<text class="n" x="321.1" y="183.8">26</text>
<text class="n" x="311.2" y="214.4">16</text>
<text class="n" x="167.5" y="116.6">24</text>
<text class="n" x="167.8" y="158.4">25</text>
<text class="n" x="546.4" y="225.7">21</text>
<text class="n" x="546.6" y="280.8">3</text>
<text class="n" x="440.8" y="271.7">2</text>
<text class="n" x="440.8" y="330.5">20</text>
<text class="n" x="64.7" y="238.0">14</text>
<text class="n" x="112.7" y="264.8">12</text>
<text class="n" x="143.5" y="282.2">13</text>
<text class="n" x="185.2" y="304.6">9</text>
<text class="n" x="168.7" y="481.8">15</text>
<text class="n" x="286.3" y="544.8">8</text>
<text class="n" x="461.7" y="463.8">10</text>
<text class="n" x="338.500" y="578" style="letter-spacing:-1.200px">11</text>
<text class="n" x="199.1" y="598.3">7</text>
<text class="n" x="137.4" y="640.7">7A</text>
<text class="n" x="401.500" y="649">20</text>
<text class="n" x="381.200" y="661.700">22</text>
<text class="n" x="359.1" y="673.1">23</text>
<text class="n" x="418.1" y="720.8">6</text>
<text class="n" x="412.7" y="759.8">18</text>
<text class="n" x="415.1" y="792.3">20</text>
<text class="n" x="125.5" y="815.0">17</text>
<text class="n" x="191.8" y="809.0">1</text>
<text class="n" x="222.9" y="849.0">19</text>
<path class="k" d="M133.700 263 L146.700 263 L140.200 252.500Z"/>
<path class="k" d="M194 303.500 L208 303.500 L201 292.500Z"/>
<rect x="185" y="587.300" width="11" height="11" fill="#3a3a3a"/>
<rect x="160.500" y="628.300" width="11.200" height="11" fill="#3a3a3a"/>
</g>
<g id="leaders" class="ld">
<path d="M242 24H269"/><path d="M355 40H379"/><path d="M410 97.5H437"/><path d="M410 157.5H437"/>
<path d="M291 177H320"/><path d="M331 208H360"/><path d="M189.700 110.200H219"/><path d="M189.200 152.800H215.500"/>
<path d="M517.300 219.400H545.300"/><path d="M515.300 275H546"/>
<path d="M426.5 223V258L468.5 237V200.5"/><path d="M446.7 248V256"/>
<path d="M450.5 333V361"/>
<path d="M74 240V266"/><path d="M122 267V305"/><path d="M152.8 284V323"/><path d="M190 307V339"/><path d="M178 466V431"/>
<path d="M291 530V496"/><path d="M470 467V496"/><path d="M347 560V530"/>
<path d="M210 591.6H238"/><path d="M151.5 643V675"/>
<path d="M411 635V615"/><path d="M390 648V623"/><path d="M368 659.500V635.600"/>
<path d="M390 715H416"/><path d="M387 752.5H412"/><path d="M389 786H414"/>
<path d="M134 799V766"/><path d="M198 792.6V759"/><path d="M242.5 844.6H267"/>
</g>
<g id="dots" class="d">
<circle cx="269.5" cy="24" r="2.2"/><circle cx="354.5" cy="40" r="2.2"/><circle cx="410" cy="97.5" r="2.2"/><circle cx="410" cy="157.5" r="2.2"/>
<circle cx="291" cy="177" r="2.2"/><circle cx="360.5" cy="208" r="2.2"/><circle cx="219.500" cy="110.200" r="2.200"/><circle cx="216.200" cy="152.800" r="2.200"/>
<circle cx="517.300" cy="219.400" r="2.200"/><circle cx="515.300" cy="275" r="2.200"/>
<circle cx="426.5" cy="223" r="2"/><circle cx="468.5" cy="200.5" r="2"/>
<circle cx="450.5" cy="361.5" r="2.2"/>
<circle cx="74" cy="266" r="2.2"/><circle cx="122" cy="305" r="2.2"/><circle cx="152.8" cy="323" r="2.2"/><circle cx="190" cy="339" r="2.2"/><circle cx="178" cy="431" r="2.2"/>
<circle cx="291" cy="496" r="2.2"/><circle cx="470" cy="496" r="2.2"/><circle cx="347" cy="530" r="2.2"/>
<circle cx="238" cy="591.6" r="2.2"/><circle cx="151.5" cy="675" r="2.2"/>
<circle cx="411" cy="615" r="2.2"/><circle cx="390" cy="623" r="2.200"/><circle cx="368" cy="635.600" r="2.200"/>
<circle cx="390" cy="715" r="2.2"/><circle cx="387" cy="752.5" r="2.2"/><circle cx="389" cy="786" r="2.2"/>
<circle cx="134" cy="766" r="2.2"/><circle cx="198" cy="759" r="2.2"/><circle cx="267" cy="844.6" r="2.2"/>
</g>
</svg>
</body></html>
